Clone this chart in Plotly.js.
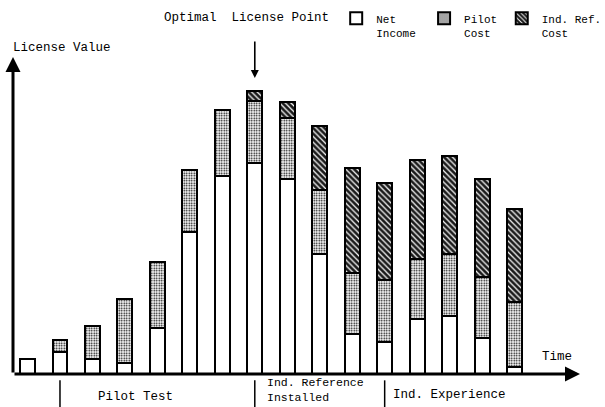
<!DOCTYPE html>
<html>
<head>
<meta charset="utf-8">
<script src="https://cdn.plot.ly/plotly-3.0.1.min.js"></script>
<style>html,body{margin:0;padding:0;background:#fff;}#chart{width:605px;height:407px;}</style>
</head>
<body>
<div id="chart"></div>
<script>
// ---- data (arbitrary license-value units) ----
var periods = [1, 2, 3, 4, 5, 6, 7, 8, 9, 10, 11, 12, 13, 14, 15, 16];
var netIncome = [15, 22, 15, 11, 46, 142, 198, 211, 195, 120, 40, 32, 55, 58, 36, 7];
var pilotCost = [null, 12, 33, 64, 66, 62, 66, 62, 61, 64, 61, 62, 60, 62, 61, 65];
var indRefCost = [null, null, null, null, null, null, null, 10, 16, 64, 105, 97, 99, 98, 98, 93];
var seriesNames = ['Net<br>Income', 'Pilot<br>Cost', 'Ind. Ref.<br>Cost'];
var phaseStarts = [2, 8, 12];
var phaseLabels = ['Pilot Test', 'Ind. Reference<br>Installed', 'Ind. Experience'];
var optimalPeriod = 8;

var FONT = 'Liberation Mono, Courier New, monospace';
var BW = 0.46;

var traces = [
  {type: 'bar', x: periods, y: netIncome, name: seriesNames[0], width: BW, legend: 'legend',
   marker: {color: '#ffffff', line: {color: '#000', width: 2}}},
  {type: 'bar', x: periods, y: pilotCost, name: seriesNames[1], width: BW, legend: 'legend2',
   marker: {color: '#ffffff', line: {color: '#000', width: 2},
            pattern: {shape: '.', fgcolor: '#000', bgcolor: '#fff', size: 2.5, solidity: 0.35}}},
  {type: 'bar', x: periods, y: indRefCost, name: seriesNames[2], width: BW, legend: 'legend3',
   marker: {color: '#222', line: {color: '#000', width: 2},
            pattern: {shape: '\\', fgcolor: '#ffffff', bgcolor: '#1a1a1a', size: 4, solidity: 0.3}}}
];

var ann = [
  // axes arrows
  {xref: 'paper', yref: 'paper', x: 0, y: 1, ax: 0, ay: 317, text: '', showarrow: true,
   arrowhead: 2, arrowsize: 1, arrowwidth: 3, arrowcolor: '#000', standoff: 0, startstandoff: 0},
  {xref: 'paper', yref: 'paper', x: 1, y: 0, ax: -567, ay: 0, text: '', showarrow: true,
   arrowhead: 2, arrowsize: 1, arrowwidth: 3, arrowcolor: '#000', standoff: 0, startstandoff: 0},
  {xref: 'paper', yref: 'paper', x: -0.004, y: 1.028, xanchor: 'left', yanchor: 'middle',
   text: 'License Value', showarrow: false},
  {xref: 'paper', yref: 'paper', x: 0.262, y: 1.123, xanchor: 'left', yanchor: 'middle',
   text: 'Optimal\u00a0 License Point', showarrow: false},
  {xref: 'x', yref: 'y', x: optimalPeriod, y: 296, ax: 0, ay: -38, text: '', showarrow: true,
   arrowhead: 2, arrowsize: 1, arrowwidth: 1.6, arrowcolor: '#000', standoff: 0},
  {xref: 'paper', yref: 'paper', x: 0.929, y: 0.054, xanchor: 'left', yanchor: 'middle',
   text: 'Time', showarrow: false},
  {xref: 'x', yref: 'paper', x: 3.1, y: -0.073, xanchor: 'left', yanchor: 'middle',
   text: phaseLabels[0], showarrow: false},
  {xref: 'x', yref: 'paper', x: 8.3, y: -0.101, xanchor: 'left', yanchor: 'bottom', align: 'left',
   text: phaseLabels[1], showarrow: false, font: {size: 11.5}},
  {xref: 'x', yref: 'paper', x: 12.2, y: -0.066, xanchor: 'left', yanchor: 'middle',
   text: phaseLabels[2], showarrow: false}
];

var shapes = phaseStarts.map(function (p) {
  return {type: 'line', xref: 'x', yref: 'paper', x0: p, x1: p, y0: -0.02, y1: -0.12,
          line: {color: '#000', width: 1.5}};
});

function leg(xp) {
  return {x: xp, y: 1.165, xanchor: 'left', yanchor: 'top', bgcolor: 'rgba(0,0,0,0)',
          borderwidth: 0, valign: 'top', font: {family: FONT, size: 11, color: '#000'},
          itemwidth: 30};
}

var layout = {
  width: 605, height: 407,
  margin: {l: 13, r: 25, t: 57, b: 33, autoexpand: false},
  paper_bgcolor: '#fff', plot_bgcolor: '#fff',
  barmode: 'stack',
  font: {family: FONT, size: 12.5, color: '#000'},
  showlegend: true,
  legend: leg(0.57),
  legend2: leg(0.725),
  legend3: leg(0.862),
  xaxis: {range: [0.553, 18.016], showgrid: false, zeroline: false, showline: false,
          showticklabels: false, ticks: '', fixedrange: true},
  yaxis: {range: [0, 317], showgrid: false, zeroline: false, showline: false,
          showticklabels: false, ticks: '', fixedrange: true},
  annotations: ann,
  shapes: shapes
};

Plotly.newPlot('chart', traces, layout, {staticPlot: true, displayModeBar: false});
</script>
</body>
</html>
